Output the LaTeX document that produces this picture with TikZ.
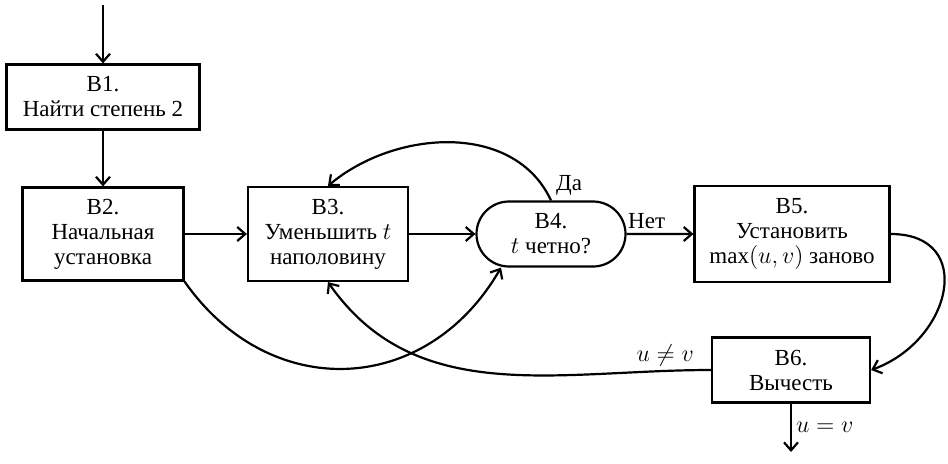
\documentclass[tikz,border=0pt]{standalone}
\usepackage{fontspec}
\setmainfont{Liberation Serif}
\usetikzlibrary{arrows.meta,shapes.misc}
\tikzset{
	blk/.style={draw, line width=1.1pt, align=center, inner sep=2pt, font=\fontsize{11.5}{12.5}\selectfont},
	test/.style={blk, rounded rectangle},
	arr/.style={line width=1.1pt, -{Straight Barb[length=4pt,width=7pt]}},
	lbl/.style={font=\fontsize{11.5}{12.5}\selectfont, inner sep=2pt}
}

\begin{document}
\begin{tikzpicture}[x=0.5pt, y=0.5pt]
		%%%%% START %%%%%
		\useasboundingbox (0, 0) rectangle (948, 463);
		
		\node[blk, minimum width=96.5pt, minimum height=32.5pt] (b1) at (103, 366) {B1.\\Найти степень 2};
		\node[blk, minimum width=80.5pt, minimum height=46.5pt] (b2) at (103, 229) {B2.\\Начальная\\установка};
		\node[blk, minimum width=80pt, minimum height=47pt] (b3) at (328, 229) {B3.\\Уменьшить $t$\\наполовину};
		\node[test, minimum width=78.5pt, minimum height=32.5pt] (b4) at (551, 229) {B4.\\$t$ четно?};
		\node[blk, minimum width=97.5pt, minimum height=48pt] (b5) at (792, 229) {B5.\\Установить\\$\max(u,v)$ заново};
		\node[blk, minimum width=79pt, minimum height=32.5pt] (b6) at (791, 93) {B6.\\Вычесть};
		
		\coordinate (entry) at (103, 458);
		\coordinate (exit) at (791, 11);
		
		\draw[arr] (entry) -- (b1);
		\draw[arr] (b1) -- (b2);
		\draw[arr] (b2) -- (b3);
		\draw[arr] (b3) -- (b4);
		\draw[arr] (b4) -- node[lbl, above, pos=0.3] {Нет} (b5);
		\draw[arr] (b4.north) to[out=115, in=40] node[lbl, pos=0, anchor=south west] {Да} (b3.north);
		\draw[arr] (b2.south east) to[out=-55, in=240, looseness=1.2] ([xshift=-25pt]b4.south);
		\draw[arr] (b6.west) to[out=180, in=-55] node[lbl, above, pos=0.1] {$u\neq v$} (b3.south);
		\draw[arr] (b5.east) to[out=0, in=20, looseness=1.6] (b6.east);
		\draw[arr] (b6) -- node[lbl, right, pos=0.5] {$u=v$} (exit);
		
		%%%%% END %%%%%
\end{tikzpicture}
\end{document}
